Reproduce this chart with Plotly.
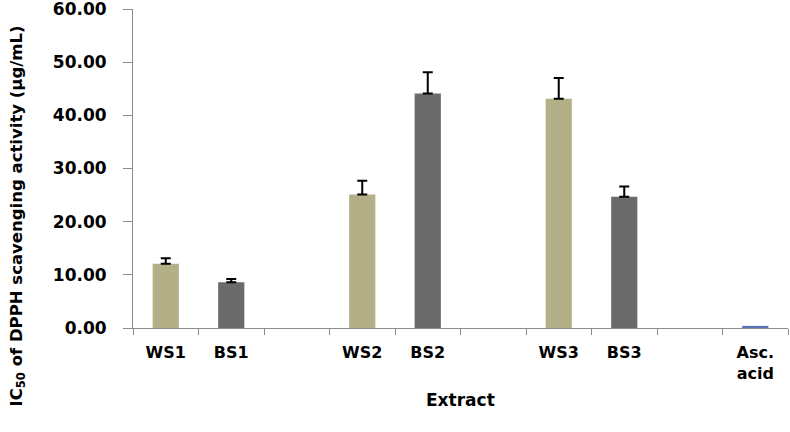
import plotly.graph_objects as go

# category slots (blank slots separate the groups)
categories = ["WS1", "BS1", " ", "WS2", "BS2", "  ", "WS3", "BS3", "   ", "Asc.<br>acid"]

ws_labels = ["WS1", "WS2", "WS3"]
ws_values = [12.1, 25.1, 43.1]
ws_errors = [1.0, 2.6, 3.9]

bs_labels = ["BS1", "BS2", "BS3"]
bs_values = [8.6, 44.1, 24.7]
bs_errors = [0.6, 4.0, 1.9]

asc_labels = ["Asc.<br>acid"]
asc_values = [0.4]

FONT = "DejaVu Sans"

fig = go.Figure()

def err(vals):
    return dict(type="data", symmetric=False, array=vals, arrayminus=[0] * len(vals),
                color="black", thickness=2, width=5)

fig.add_trace(go.Bar(x=ws_labels, y=ws_values, marker=dict(color="#B3B087", line=dict(width=0)),
                     width=0.4, error_y=err(ws_errors)))
fig.add_trace(go.Bar(x=bs_labels, y=bs_values, marker=dict(color="#6A6A6A", line=dict(width=0)),
                     width=0.4, error_y=err(bs_errors)))
fig.add_trace(go.Bar(x=asc_labels, y=asc_values, marker=dict(color="#5B73B8", line=dict(width=0)),
                     width=0.4))

fig.update_layout(
    width=790, height=432,
    margin=dict(l=133, r=2, t=9, b=104),
    paper_bgcolor="white", plot_bgcolor="white",
    showlegend=False,
    barmode="overlay",
    font=dict(family=FONT, color="black"),
    xaxis=dict(
        type="category", categoryorder="array", categoryarray=categories,
        range=[-0.5, 9.5], automargin=False,
        showline=True, linecolor="#8C8C8C", linewidth=1,
        ticks="outside", tickson="boundaries", ticklen=6, tickcolor="#8C8C8C",
        tickfont=dict(family=FONT, size=16, weight="bold"),
        ticklabelstandoff=10,
        showgrid=False, zeroline=False,
    ),
    yaxis=dict(
        range=[0, 60], dtick=10, tickformat=".2f", automargin=False,
        ticklabeloverflow="allow",
        showline=True, linecolor="#8C8C8C", linewidth=1,
        ticks="outside", ticklen=9, tickcolor="#8C8C8C",
        tickfont=dict(family=FONT, size=17, weight="bold"),
        ticklabelstandoff=13,
        showgrid=False, zeroline=False,
    ),
    annotations=[
        dict(text="Extract", xref="paper", yref="paper", x=0.5, y=-0.226,
             xanchor="center", yanchor="middle", showarrow=False,
             font=dict(family=FONT, size=17, weight="bold")),
        dict(text="IC<sub>50</sub> of DPPH scavenging activity (µg/mL)",
             xref="paper", yref="paper", x=-0.177, y=0.35, textangle=-90,
             xanchor="center", yanchor="middle", showarrow=False,
             font=dict(family=FONT, size=16.5, weight="bold")),
    ],
)

# drop the default page margin so the figure fills the window
fig.write_html("out.html", config={"displayModeBar": False},
               post_script="document.body.style.margin='0';")
